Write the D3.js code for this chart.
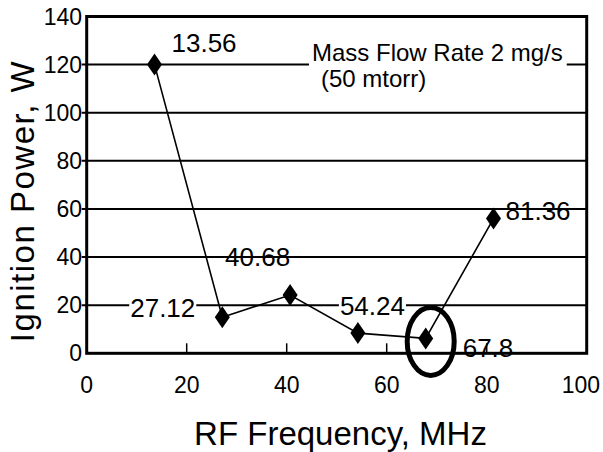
<!DOCTYPE html>
<html>
<head>
<meta charset="utf-8">
<script src="https://cdn.jsdelivr.net/npm/d3@7"></script>
<style>
  body { margin: 0; background: #fff; }
  text { font-family: "Liberation Sans", Arial, Helvetica, sans-serif; fill: #000; }
</style>
</head>
<body>
<script>
// chart values
var freqs  = [13.56, 27.12, 40.68, 54.24, 67.8, 81.36];
var power  = [120, 15, 24.2, 8.4, 6.2, 56];
var pointLabels = ["13.56", "27.12", "40.68", "54.24", "67.8", "81.36"];
var xTicks = [0, 20, 40, 60, 80, 100];
var yTicks = [0, 20, 40, 60, 80, 100, 120, 140];
var note = ["Mass Flow Rate 2 mg/s", "(50 mtorr)"];

var width = 603, height = 452;

// where each point label sits relative to its marker, and whether it hides the grid
var labelPos = [
  {dx: 17,  dy: -13, anchor: "start", bg: false},
  {dx: -27, dy: 0,   anchor: "end",   bg: true},
  {dx: -65, dy: -29, anchor: "start", bg: false},
  {dx: -18, dy: -18, anchor: "start", bg: true},
  {dx: 37,  dy: 19,  anchor: "start", bg: false},
  {dx: 12,  dy: 1,   anchor: "start", bg: false}
];

var x = d3.scaleLinear().domain([0, 100]).range([86.7, 586.7]);
var y = d3.scaleLinear().domain([0, 140]).range([353.3, 16.5]);

var svg = d3.select("body").append("svg")
    .attr("width", width)
    .attr("height", height);

// horizontal grid
svg.append("g")
    .attr("class", "grid")
  .selectAll("line")
  .data(yTicks.slice(1, -1))
  .enter().append("line")
    .attr("x1", x(0) - 5)
    .attr("x2", x(100))
    .attr("y1", y)
    .attr("y2", y)
    .attr("stroke", "#000")
    .attr("stroke-width", 2);

// note with white box over the 120 line
var noteG = svg.append("g");
var noteBg = noteG.append("rect").attr("fill", "#fff");
noteG.append("text")
    .attr("x", 312)
    .attr("y", 61)
    .style("font-size", "24px")
    .text(note[0]);
noteG.append("text")
    .attr("x", 321)
    .attr("y", 87)
    .style("font-size", "24px")
    .text(note[1]);
var nb = noteG.node().getBBox();
noteBg.attr("x", nb.x - 3).attr("y", nb.y - 2)
    .attr("width", nb.width + 7).attr("height", nb.height + 4);

var pts = freqs.map(function(f, i) { return [f, power[i]]; });

// point labels (some with white boxes)
var labs = svg.append("g").attr("class", "labels");
pts.forEach(function(p, i) {
  var lp = labelPos[i];
  var g = labs.append("g");
  var bg = g.append("rect").attr("fill", "#fff");
  var t = g.append("text")
      .attr("x", x(p[0]) + lp.dx)
      .attr("y", y(p[1]) + lp.dy)
      .attr("text-anchor", lp.anchor)
      .style("font-size", "26px")
      .text(pointLabels[i]);
  if (lp.bg) {
    var b = t.node().getBBox();
    bg.attr("x", b.x - 1).attr("y", b.y + 3)
      .attr("width", b.width + 2).attr("height", b.height - 6);
  } else {
    bg.remove();
  }
});

// data line
svg.append("path")
    .datum(pts)
    .attr("fill", "none")
    .attr("stroke", "#000")
    .attr("stroke-width", 1.6)
    .attr("d", d3.line()
        .x(function(d) { return x(d[0]); })
        .y(function(d) { return y(d[1]); }));

// diamond markers
svg.append("g")
  .selectAll("path")
  .data(pts)
  .enter().append("path")
    .attr("d", "M0,-11L7.5,0L0,11L-7.5,0Z")
    .attr("fill", "#000")
    .attr("transform", function(d) { return "translate(" + x(d[0]) + "," + y(d[1]) + ")"; });

// frame
svg.append("rect")
    .attr("x", x(0))
    .attr("y", y(140))
    .attr("width", x(100) - x(0))
    .attr("height", y(0) - y(140))
    .attr("fill", "none")
    .attr("stroke", "#000")
    .attr("stroke-width", 3);

// x ticks pointing inward
svg.append("g")
  .selectAll("line")
  .data(xTicks.slice(1, -1))
  .enter().append("line")
    .attr("x1", x).attr("x2", x)
    .attr("y1", y(0)).attr("y2", y(0) - 10)
    .attr("stroke", "#000")
    .attr("stroke-width", 1.5);

svg.append("g")
  .selectAll("text")
  .data(xTicks)
  .enter().append("text")
    .attr("x", x)
    .attr("y", 393)
    .attr("text-anchor", "middle")
    .style("font-size", "23px")
    .text(function(d) { return d; })
    .each(function() {
      // keep the last label inside the page
      var b = this.getBBox();
      if (b.x + b.width > 600) d3.select(this).attr("x", +d3.select(this).attr("x") - (b.x + b.width - 600));
    });

svg.append("g")
  .selectAll("text")
  .data(yTicks)
  .enter().append("text")
    .attr("x", 82)
    .attr("y", function(d) { return y(d) + 8; })
    .attr("text-anchor", "end")
    .style("font-size", "23px")
    .text(function(d) { return d; });

// axis titles
svg.append("text")
    .attr("x", 340.5)
    .attr("y", 445)
    .attr("text-anchor", "middle")
    .style("font-size", "33px")
    .text("RF Frequency, MHz");

svg.append("text")
    .attr("transform", "translate(34,201) rotate(-90)")
    .attr("text-anchor", "middle")
    .style("font-size", "33px")
    .style("letter-spacing", "1.5px")
    .text("Ignition Power, W");

// highlight ring around the 67.8 point
svg.append("ellipse")
    .attr("cx", x(67.8) + 5)
    .attr("cy", y(6.2) + 3)
    .attr("rx", 23.5)
    .attr("ry", 34)
    .attr("fill", "none")
    .attr("stroke", "#000")
    .attr("stroke-width", 5);
</script>
</body>
</html>
